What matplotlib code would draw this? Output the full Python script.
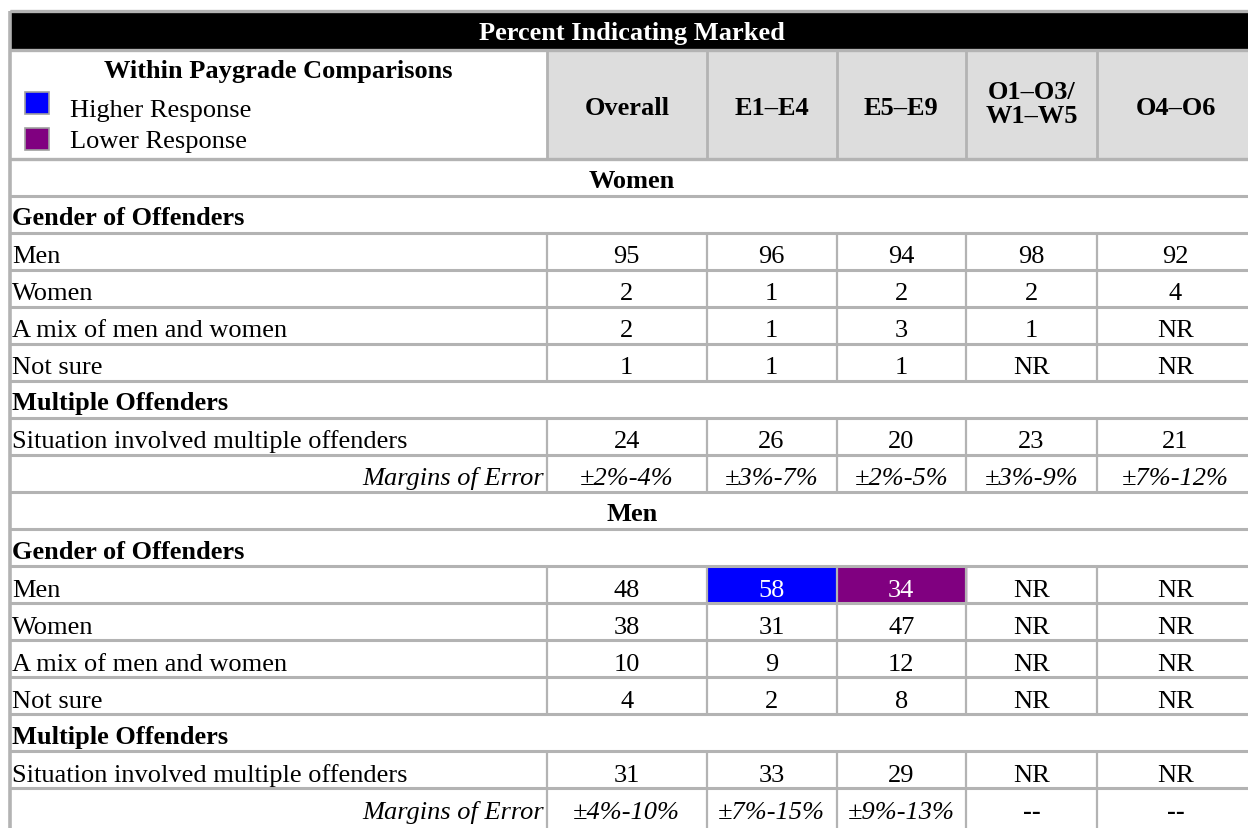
import matplotlib
matplotlib.use("Agg")
import matplotlib.pyplot as plt
from matplotlib.patches import Rectangle

plt.rcParams['font.family'] = ['Liberation Serif', 'DejaVu Serif']

# --- Table content ---
title = "Percent Indicating Marked"
columns = ["Overall", "E1–E4", "E5–E9", "O1–O3/\nW1–W5", "O4–O6"]
offender_labels = ["Men", "Women", "A mix of men and women", "Not sure"]

women_gender = [[95, 96, 94, 98, 92],
                [2, 1, 2, 2, 4],
                [2, 1, 3, 1, "NR"],
                [1, 1, 1, "NR", "NR"]]
women_multiple = [24, 26, 20, 23, 21]
women_moe = ["±2%-4%", "±3%-7%", "±2%-5%", "±3%-9%", "±7%-12%"]

men_gender = [[48, 58, 34, "NR", "NR"],
              [38, 31, 47, "NR", "NR"],
              [10, 9, 12, "NR", "NR"],
              [4, 2, 8, "NR", "NR"]]
men_multiple = [31, 33, 29, "NR", "NR"]
men_moe = ["±4%-10%", "±7%-15%", "±9%-13%", "--", "--"]

# (group, row label, column) -> comparison result
highlights = {("Men", "Men", "E1–E4"): "higher",
              ("Men", "Men", "E5–E9"): "lower"}

HIGHER = "#0000FF"
LOWER = "#800080"
GRID = "#B3B3B3"
HEAD_FILL = "#DDDDDD"
FS = 19

# --- Build row list ---
rows = []
for group, gender, multiple, moe in [("Women", women_gender, women_multiple, women_moe),
                                     ("Men", men_gender, men_multiple, men_moe)]:
    rows.append(("group", group, None, group))
    rows.append(("section", "Gender of Offenders", None, group))
    for lab, vals in zip(offender_labels, gender):
        rows.append(("data", lab, vals, group))
    rows.append(("section", "Multiple Offenders", None, group))
    rows.append(("data", "Situation involved multiple offenders", multiple, group))
    rows.append(("moe", "Margins of Error", moe, group))

# --- Layout (pixels) ---
left, right = 9.5, 1254
col_edges = [left, 547, 706.5, 836.5, 966, 1097, right]
y_top, y_title, y_head = 11.5, 51, 159.5
row_h = 37.05
base_off = 29.5   # baseline offset from the top of a row

fig = plt.figure(figsize=(12.48, 8.29), dpi=100)
ax = fig.add_axes([0, 0, 1, 1])
ax.set_xlim(0, 1248)
ax.set_ylim(829, 0)
ax.axis('off')

# title bar
ax.add_patch(Rectangle((left, y_top), right - left, y_title - y_top, color='black', zorder=1))
ax.text((left + right) / 2, 40, title, color='white', fontsize=FS,
        fontweight='bold', ha='center', va='baseline', zorder=3)

# header row
for i, name in enumerate(columns):
    x0, x1 = col_edges[i + 1], col_edges[i + 2]
    ax.add_patch(Rectangle((x0, y_title), x1 - x0, y_head - y_title, color=HEAD_FILL, zorder=1))
    lines = name.split("\n")
    if len(lines) == 1:
        ax.text((x0 + x1) / 2, 115, name, fontsize=FS, fontweight='bold',
                ha='center', va='baseline', zorder=3)
    else:
        for k, ln in enumerate(lines):
            ax.text((x0 + x1) / 2, 99 + 24 * k, ln, fontsize=FS, fontweight='bold',
                    ha='center', va='baseline', zorder=3)

ax.text((left + col_edges[1]) / 2, 78, "Within Paygrade Comparisons", fontsize=FS,
        fontweight='bold', ha='center', va='baseline', zorder=3)
for ytop, base, colr, lab in [(93, 117, HIGHER, "Higher Response"),
                              (129, 148, LOWER, "Lower Response")]:
    ax.add_patch(Rectangle((24.5, ytop), 24, 22, facecolor=colr, edgecolor="#A0A0A0",
                           linewidth=1.2, zorder=3))
    ax.text(70, base, lab, fontsize=FS, ha='left', va='baseline', zorder=3)

# body rows
y = y_head
for n, (kind, label, vals, group) in enumerate(rows):
    y0, y1 = y, y + row_h
    yb = y0 + base_off
    last = n == len(rows) - 1
    if kind == "group":
        ax.text((left + right) / 2, yb - 1, label, fontsize=FS, fontweight='bold',
                ha='center', va='baseline', zorder=3)
    elif kind == "section":
        ax.text(left + 2.5, yb - 1, label, fontsize=FS, fontweight='bold',
                ha='left', va='baseline', zorder=3)
    else:
        if kind == "data":
            ax.text(left + 2.5, yb, label, fontsize=FS, ha='left', va='baseline', zorder=3)
        else:
            ax.text(col_edges[1] - 3, yb, label, fontsize=FS, style='italic',
                    ha='right', va='baseline', zorder=3)
        for i, v in enumerate(vals):
            x0, x1 = col_edges[i + 1], col_edges[i + 2]
            flag = highlights.get((group, label, columns[i])) if kind == "data" else None
            txt_color = 'black'
            if flag is not None:
                ax.add_patch(Rectangle((x0, y0), x1 - x0, y1 - y0,
                                       color=HIGHER if flag == "higher" else LOWER, zorder=1))
                txt_color = 'white'
            if kind == "moe":
                if v == "--":
                    ax.text((x0 + x1) / 2, yb, v, fontsize=FS, fontweight='bold',
                            ha='center', va='baseline', zorder=3)
                else:
                    ax.text((x0 + x1) / 2, yb, v, fontsize=FS, style='italic',
                            ha='center', va='baseline', zorder=3)
            else:
                ax.text((x0 + x1) / 2, yb, str(v), fontsize=FS, color=txt_color,
                        ha='center', va='baseline', zorder=3)
        ax.vlines(col_edges[1:-1], y0, y1 + (5 if last else 0), colors=GRID,
                  linewidth=1.6, zorder=2)
    if not last:
        ax.hlines(y1, left, right, colors=GRID, linewidth=2.2, zorder=2)
    y = y1

# grid lines for the top part
ax.hlines([y_top, y_title, y_head], left, right, colors=GRID, linewidth=2.4, zorder=2)
ax.vlines(col_edges[1:-1], y_title, y_head, colors=GRID, linewidth=2.0, zorder=2)
ax.vlines(left, y_top, y + 5, colors=GRID, linewidth=2.6, zorder=2)

fig.savefig("out.png", dpi=100)
